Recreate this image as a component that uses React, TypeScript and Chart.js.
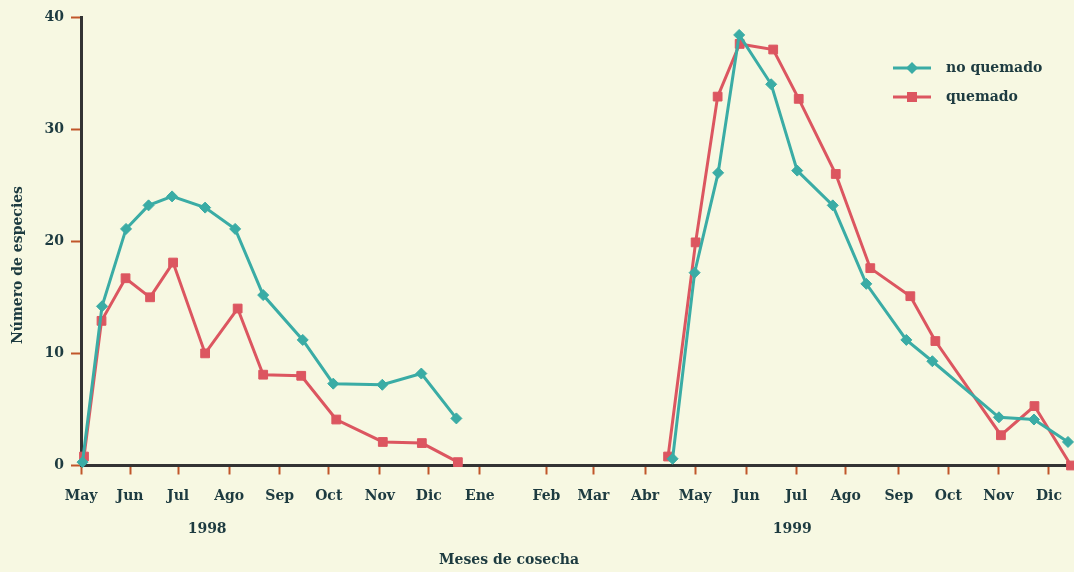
import React, { useEffect, useRef } from "react";
import { Chart, registerables } from "chart.js";

Chart.register(...registerables);

// ---- data (x in month units from May 1998) ----
const monthLabels = ["May", "Jun", "Jul", "Ago", "Sep", "Oct", "Nov", "Dic", "Ene", "Feb", "Mar", "Abr", "May", "Jun", "Jul", "Ago", "Sep", "Oct", "Nov", "Dic"];
const monthTickPos = [0, 0.98, 1.94, 2.96, 3.97, 4.95, 5.97, 6.95, 7.97, 9.3, 10.24, 11.27, 12.27, 13.29, 14.29, 15.28, 16.34, 17.33, 18.33, 19.34];
const yearLabels = ["1998", "1999"];
const yearLabelPos = [2.52, 14.21];
const yTicks = [0, 10, 20, 30, 40];

const noQuemado1998Pos = [0.03, 0.42, 0.9, 1.35, 1.82, 2.48, 3.08, 3.64, 4.43, 5.04, 6.02, 6.8, 7.5];
const noQuemado1998 = [0.3, 14.2, 21.1, 23.2, 24.0, 23.0, 21.1, 15.2, 11.2, 7.3, 7.2, 8.2, 4.2];
const quemado1998Pos = [0.06, 0.41, 0.89, 1.38, 1.84, 2.48, 3.13, 3.64, 4.4, 5.1, 6.03, 6.81, 7.53];
const quemado1998 = [0.8, 12.9, 16.7, 15.0, 18.1, 10.0, 14.0, 8.1, 8.0, 4.1, 2.1, 2.0, 0.3];

const noQuemado1999Pos = [11.82, 12.26, 12.73, 13.15, 13.79, 14.31, 15.02, 15.69, 16.49, 17.01, 18.34, 19.04, 19.72];
const noQuemado1999 = [0.6, 17.2, 26.1, 38.4, 34.0, 26.3, 23.2, 16.2, 11.2, 9.3, 4.3, 4.1, 2.1];
const quemado1999Pos = [11.73, 12.28, 12.72, 13.16, 13.83, 14.34, 15.08, 15.77, 16.57, 17.07, 18.38, 19.05, 19.78];
const quemado1999 = [0.8, 19.9, 32.9, 37.6, 37.1, 32.7, 26.0, 17.6, 15.1, 11.1, 2.7, 5.3, 0];

const seriesNames = ["no quemado", "quemado"];

// ---- styles ----
const BG = "#f7f8e2";
const TEAL = "#3aaca5";
const RED = "#dc5660";
const TEXT = "#1d3b40";
const TICK = "#c0562a";
const AXIS = "#333333";
const FONT = "'DejaVu Serif', serif";

const pts = (xs: number[], ys: number[]) => xs.map((x, i) => ({ x, y: ys[i] }));
const gapX = (a: number[], b: number[]) => (a[a.length - 1] + b[0]) / 2;

const bgPlugin = {
  id: "bg",
  beforeDraw(chart: any) {
    const { ctx, width, height } = chart;
    ctx.save();
    ctx.fillStyle = BG;
    ctx.fillRect(0, 0, width, height);
    ctx.restore();
  },
};

const decorPlugin = {
  id: "decor",
  afterDraw(chart: any) {
    const { ctx } = chart;
    const xs = chart.scales.x;
    ctx.save();
    ctx.fillStyle = TEXT;
    ctx.font = `bold 14px ${FONT}`;
    ctx.textAlign = "center";
    ctx.textBaseline = "middle";
    // year labels
    yearLabels.forEach((t, i) => {
      ctx.fillText(t, xs.getPixelForValue(yearLabelPos[i]), 529);
    });
    // x title
    ctx.fillText("Meses de cosecha", 509, 560);
    // y title
    ctx.save();
    ctx.translate(18.5, 265);
    ctx.rotate(-Math.PI / 2);
    ctx.fillText("Número de especies", 0, 0);
    ctx.restore();
    // legend
    chart.data.datasets.forEach((ds: any, i: number) => {
      const y = 68 + i * 29;
      ctx.strokeStyle = ds.borderColor;
      ctx.lineWidth = 3;
      ctx.beginPath();
      ctx.moveTo(893, y);
      ctx.lineTo(931, y);
      ctx.stroke();
      ctx.fillStyle = ds.borderColor;
      const cx = 912;
      ctx.beginPath();
      if (ds.pointStyle === "rectRot") {
        const r = 6;
        ctx.moveTo(cx - r, y);
        ctx.lineTo(cx, y - r);
        ctx.lineTo(cx + r, y);
        ctx.lineTo(cx, y + r);
        ctx.closePath();
      } else {
        const s = 5;
        ctx.rect(cx - s, y - s, 2 * s, 2 * s);
      }
      ctx.fill();
      ctx.fillStyle = TEXT;
      ctx.textAlign = "left";
      ctx.fillText(ds.label, 946, y);
    });
    ctx.restore();
  },
};

export default function App() {
  const ref = useRef<HTMLCanvasElement | null>(null);

  useEffect(() => {
    document.body.style.margin = "0";
    document.body.style.background = BG;
    if (!ref.current) return;
    const chart = new Chart(ref.current, {
      type: "line",
      data: {
        datasets: [
          {
            label: seriesNames[0],
            data: [
              ...pts(noQuemado1998Pos, noQuemado1998),
              { x: gapX(noQuemado1998Pos, noQuemado1999Pos), y: null },
              ...pts(noQuemado1999Pos, noQuemado1999),
            ],
            borderColor: TEAL,
            backgroundColor: TEAL,
            borderWidth: 3,
            pointStyle: "rectRot",
            pointRadius: 5.5,
            pointBorderWidth: 1,
            pointBackgroundColor: TEAL,
            pointBorderColor: TEAL,
            spanGaps: false,
            tension: 0,
            clip: false,
          },
          {
            label: seriesNames[1],
            data: [
              ...pts(quemado1998Pos, quemado1998),
              { x: gapX(quemado1998Pos, quemado1999Pos), y: null },
              ...pts(quemado1999Pos, quemado1999),
            ],
            borderColor: RED,
            backgroundColor: RED,
            borderWidth: 3,
            pointStyle: "rect",
            pointRadius: 6.2,
            pointBorderWidth: 1,
            pointBackgroundColor: RED,
            pointBorderColor: RED,
            spanGaps: false,
            tension: 0,
            clip: false,
          },
        ] as any,
      },
      options: {
        animation: false,
        responsive: false,
        maintainAspectRatio: false,
        layout: { autoPadding: false, padding: { top: 17, left: 0, right: 0, bottom: 0 } },
        plugins: {
          legend: { display: false },
          tooltip: { enabled: false },
        },
        scales: {
          x: {
            type: "linear",
            position: "bottom",
            min: 0,
            max: 19.84,
            afterFit: (s: any) => {
              s.height = 106.5;
              s.paddingLeft = 0;
              s.paddingRight = 0;
            },
            afterBuildTicks: (s: any) => {
              s.ticks = monthTickPos.map((v) => ({ value: v }));
            },
            ticks: {
              autoSkip: false,
              maxRotation: 0,
              minRotation: 0,
              color: TEXT,
              padding: 13,
              font: { family: FONT, size: 14, weight: "bold" },
              callback: (_v: any, i: number) => monthLabels[i],
            },
            grid: {
              display: true,
              drawOnChartArea: false,
              drawTicks: true,
              tickLength: 9,
              tickColor: TICK,
              tickWidth: 2,
            },
            border: { display: true, color: AXIS, width: 3 },
          },
          y: {
            type: "linear",
            min: 0,
            max: 40,
            afterFit: (s: any) => {
              s.width = 81;
              s.paddingTop = 0;
              s.paddingBottom = 0;
            },
            afterBuildTicks: (s: any) => {
              s.ticks = yTicks.map((v) => ({ value: v }));
            },
            ticks: {
              color: TEXT,
              padding: 7,
              font: { family: FONT, size: 14, weight: "bold" },
            },
            grid: {
              display: true,
              drawOnChartArea: false,
              drawTicks: true,
              tickLength: 10,
              tickColor: TICK,
              tickWidth: 2,
            },
            border: { display: true, color: AXIS, width: 3 },
          },
        },
      } as any,
      plugins: [bgPlugin, decorPlugin],
    });
    return () => chart.destroy();
  }, []);

  return (
    <div style={{ position: "fixed", left: 0, top: 0, width: 1074, height: 572, background: BG }}>
      <canvas ref={ref} width={1074} height={572} style={{ width: 1074, height: 572, display: "block" }} />
    </div>
  );
}
